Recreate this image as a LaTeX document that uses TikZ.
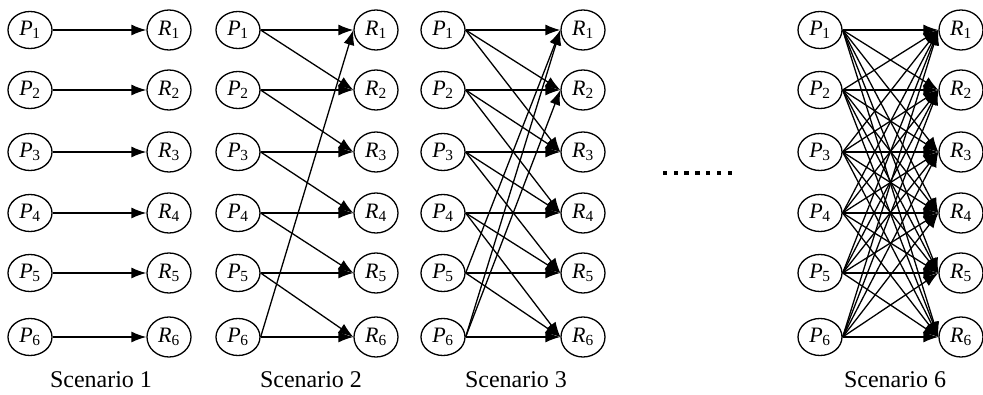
\documentclass[tikz,border=0pt]{standalone}
\usepackage{fontspec}
\setmainfont{Liberation Serif}
\usetikzlibrary{shapes.geometric,arrows.meta}
\tikzset{
  pnode/.style={ellipse,draw,line width=1.3pt,minimum width=44pt,minimum height=37pt,inner sep=0pt,font=\fontsize{22}{22}\selectfont},
  rnode/.style={pnode,minimum height=40pt},
  link/.style={line width=1.3pt,-{Latex[length=15pt,width=11pt]}},
  captxt/.style={font=\fontsize{24}{24}\selectfont,anchor=base},
  dotsq/.style={fill,minimum size=4.5pt,inner sep=0pt}
}
\newcommand{\PL}[1]{\textit{P}\kern-0.5pt\textsubscript{#1}}
\newcommand{\RL}[1]{\textit{R}\textsubscript{#1}}
\begin{document}
\begin{tikzpicture}[x=1pt,y=-1pt]
\useasboundingbox (0,0) rectangle (983,395);
\def\rows{30,90,152,213,273,337}
% scenario nodes
\foreach \s/\px/\rx in {a/30/169, b/238/376, c/443/583, d/820/961}{
  \foreach \yy [count=\i] in \rows {
    \node[pnode] (\s P\i) at (\px,\yy) {\PL{\i}};
    \node[rnode] (\s R\i) at (\rx,\yy) {\RL{\i}};
  }
}
% Scenario 1
\foreach \i in {1,...,6} \draw[link] (aP\i.east) -- (aR\i.west);
% Scenario 2
\foreach \i in {1,...,6} \draw[link] (bP\i.east) -- (bR\i.west);
\foreach \i/\j in {1/2,2/3,3/4,4/5,5/6,6/1} \draw[link] (bP\i.east) -- (bR\j.west);
% Scenario 3
\foreach \i in {1,...,6} \draw[link] (cP\i.east) -- (cR\i.west);
\foreach \i/\j in {1/2,2/3,3/4,4/5,5/6,6/1} \draw[link] (cP\i.east) -- (cR\j.west);
\foreach \i/\j in {1/3,2/4,3/5,4/6,5/1,6/2} \draw[link] (cP\i.east) -- (cR\j.west);
% Scenario 6
\foreach \i in {1,...,6} \foreach \j in {1,...,6} \draw[link] (dP\i.east) -- (dR\j.west);
% dots
\foreach \k [count=\n] in {0,...,6} \node[dotsq] (dot\n) at (665+\k*10.8,173) {};
% captions
\node[captxt] (c1) at (101,388) {Scenario 1};
\node[captxt] (c2) at (311,388) {Scenario 2};
\node[captxt] (c3) at (516,388) {Scenario 3};
\node[captxt] (c6) at (895,388) {Scenario 6};
\end{tikzpicture}
\end{document}
